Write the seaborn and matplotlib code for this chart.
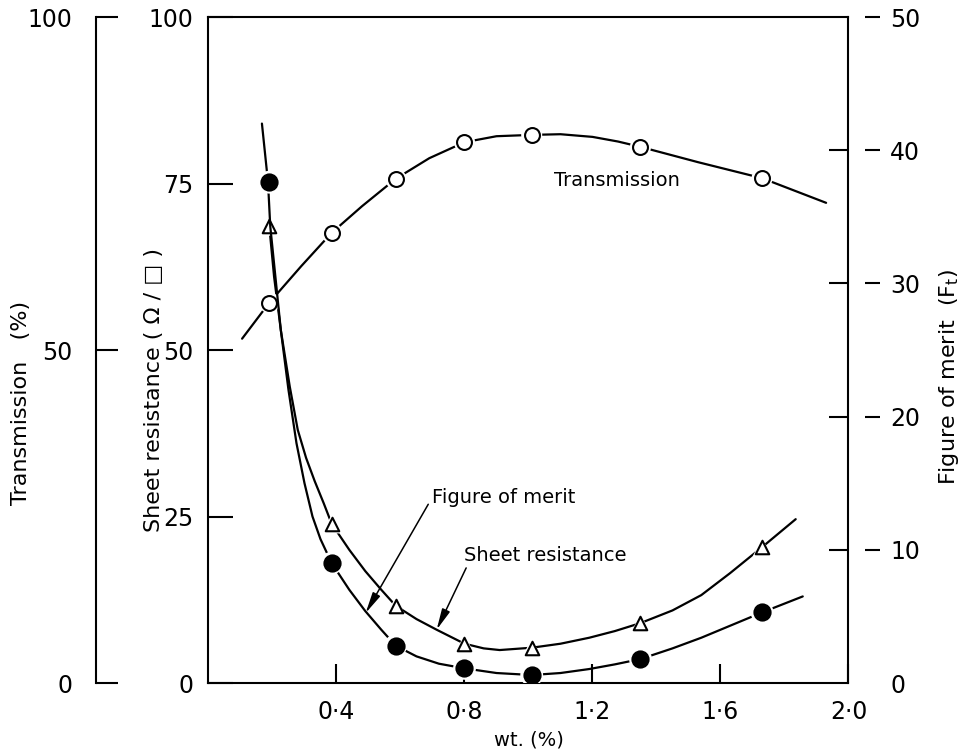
# Transmission, sheet resistance and figure of merit vs wt. %
#
# python plot.py

import matplotlib
matplotlib.use("Agg")
import matplotlib.pyplot as plt
import seaborn as sns


# measured points (markers)
wt_points = [0.19, 0.385, 0.585, 0.80, 1.01, 1.35, 1.73]
transmission = [57.1, 67.6, 75.7, 81.2, 82.3, 80.5, 75.8]
sheet_resistance = [68.6, 23.9, 11.6, 5.9, 5.3, 9.0, 20.4]
figure_of_merit = [37.6, 9.0, 2.8, 1.1, 0.6, 1.8, 5.3]

# hand drawn curves
trans_curve_wt = [0.105, 0.19, 0.29, 0.385, 0.48, 0.585, 0.69, 0.80, 0.90, 1.01, 1.10,
                  1.20, 1.28, 1.35, 1.53, 1.73, 1.93]
trans_curve = [51.7, 57.1, 62.6, 67.6, 71.6, 75.7, 78.8, 81.2, 82.1, 82.3, 82.4,
               82.0, 81.3, 80.5, 78.2, 75.8, 72.1]

sheet_curve_wt = [0.19, 0.205, 0.226, 0.254, 0.279, 0.305, 0.332, 0.36, 0.385, 0.44, 0.49,
                  0.54, 0.585, 0.65, 0.713, 0.80, 0.86, 0.91, 1.01, 1.10, 1.19, 1.27,
                  1.35, 1.45, 1.54, 1.63, 1.73, 1.835]
sheet_curve = [68.6, 61.0, 53.0, 44.5, 38.0, 33.8, 30.3, 27.0, 23.9, 20.0, 16.8,
               14.0, 11.6, 9.6, 8.0, 5.9, 5.2, 4.95, 5.3, 5.9, 6.8, 7.8,
               9.0, 10.9, 13.2, 16.5, 20.4, 24.6]

fom_curve_wt = [0.167, 0.186, 0.193, 0.226, 0.25, 0.275, 0.30, 0.325, 0.35, 0.385, 0.44,
                0.49, 0.54, 0.585, 0.65, 0.72, 0.80, 0.90, 1.01, 1.10, 1.19, 1.27,
                1.35, 1.45, 1.54, 1.63, 1.73, 1.857]
fom_curve = [42.0, 37.6, 34.3, 26.5, 22.0, 18.0, 15.0, 12.5, 10.8, 9.0, 7.0,
             5.4, 4.0, 2.8, 2.0, 1.45, 1.1, 0.75, 0.6, 0.75, 1.05, 1.4,
             1.8, 2.6, 3.4, 4.3, 5.3, 6.5]

x_ticks = [0.4, 0.8, 1.2, 1.6, 2.0]
x_tick_labels = ["0\u00b74", "0\u00b78", "1\u00b72", "1\u00b76", "2\u00b70"]
sheet_ticks = [0, 25, 50, 75, 100]
trans_ticks = [0, 50, 100]
fom_ticks = [0, 10, 20, 30, 40, 50]

sns.set_style("white")
plt.rcParams["font.family"] = ["DejaVu Sans"]
plt.rcParams["text.color"] = "black"
plt.rcParams["axes.labelcolor"] = "black"
plt.rcParams["xtick.color"] = "black"
plt.rcParams["ytick.color"] = "black"

LW = 1.6
TICK_FS = 17
LABEL_FS = 16
NOTE_FS = 14

fig = plt.figure(figsize=(9.63, 7.49), dpi=100)
ax = fig.add_axes([0.2165, 0.0881, 0.6646, 0.8892])
ax_t = ax.twinx()
ax_f = ax.twinx()
ax_fin = ax.twinx()


def markers(axis, x, y, marker, size, face):
    # white halo first, so the line breaks around each marker
    sns.scatterplot(x=x, y=y, ax=axis, marker=marker, s=size * 2.0, color="white",
                    edgecolor="none", linewidth=0, zorder=3, legend=False)
    sns.scatterplot(x=x, y=y, ax=axis, marker=marker, s=size, color=face,
                    edgecolor="black", linewidth=1.5, zorder=4, legend=False)


# sheet resistance (left scale 0-100)
sns.lineplot(x=sheet_curve_wt, y=sheet_curve, ax=ax, sort=False, estimator=None,
             color="black", linewidth=LW)
markers(ax, wt_points, sheet_resistance, "^", 95, "white")

# transmission (outer left scale 0-100)
sns.lineplot(x=trans_curve_wt, y=trans_curve, ax=ax_t, sort=False, estimator=None,
             color="black", linewidth=LW)
markers(ax_t, wt_points, transmission, "o", 115, "white")

# figure of merit (right scale 0-50)
sns.lineplot(x=fom_curve_wt, y=fom_curve, ax=ax_f, sort=False, estimator=None,
             color="black", linewidth=LW)
markers(ax_f, wt_points, figure_of_merit, "o", 135, "black")

# main box
ax.set_xlim(0, 2.0)
ax.set_ylim(0, 100)
for s in ax.spines.values():
    s.set_linewidth(1.5)
    s.set_color("black")
ax.set_xticks(x_ticks)
ax.set_xticklabels(x_tick_labels)
ax.set_yticks(sheet_ticks)
ax.tick_params(axis="x", direction="in", length=14, width=1.5, pad=12,
               labelsize=TICK_FS, bottom=True)
ax.tick_params(axis="y", direction="in", length=18, width=1.5, pad=11,
               labelsize=TICK_FS, left=True, right=False)
ax.set_xlabel("wt. (%)", fontsize=NOTE_FS)
ax.xaxis.set_label_coords(0.5, -0.071)
ax.set_ylabel("Sheet resistance ( \u03a9 / \u25a1 )", fontsize=LABEL_FS)
ax.yaxis.set_label_coords(-0.07, 0.44)

# outer transmission axis on the far left
ax_t.set_ylim(0, 100)
ax_t.set_yticks(trans_ticks)
ax_t.yaxis.set_ticks_position("left")
ax_t.yaxis.set_label_position("left")
for k in ["right", "top", "bottom"]:
    ax_t.spines[k].set_visible(False)
ax_t.spines["left"].set_visible(True)
ax_t.spines["left"].set_position(("outward", 81))
ax_t.spines["left"].set_linewidth(1.5)
ax_t.spines["left"].set_color("black")
ax_t.tick_params(axis="y", direction="in", length=16, width=1.5, pad=17,
                 labelsize=TICK_FS)
ax_t.set_ylabel("Transmission   (%)", fontsize=LABEL_FS)
ax_t.yaxis.set_label_coords(-0.278, 0.42)

# figure of merit labels, with the detached dashes
ax_f.set_ylim(0, 50)
ax_f.set_yticks(fom_ticks)
for s in ax_f.spines.values():
    s.set_visible(False)
ax_f.spines["right"].set_position(("outward", 12))
ax_f.tick_params(axis="y", direction="out", length=11, width=1.5, pad=7,
                 labelsize=TICK_FS)
ax_f.yaxis.get_major_ticks()[0].tick2line.set_visible(False)
ax_f.set_ylabel("Figure of merit  (F$_\\mathregular{t}$)", fontsize=LABEL_FS)
ax_f.yaxis.set_label_coords(1.139, 0.46)

# inward ticks on the right spine
ax_fin.set_ylim(0, 50)
ax_fin.set_yticks([10, 20, 30, 40])
for s in ax_fin.spines.values():
    s.set_visible(False)
ax_fin.tick_params(axis="y", direction="in", length=14, width=1.5, labelright=False)

# curve labels
ax.text(1.08, 75.5, "Transmission", fontsize=NOTE_FS, va="center", ha="left")
arrow = dict(arrowstyle="-|>,head_length=0.9,head_width=0.18", color="black", lw=1.1,
             shrinkA=0, shrinkB=0)
ax.annotate("Figure of merit", xy=(0.491, 10.5), xytext=(0.697, 27.8), fontsize=NOTE_FS,
            va="center", ha="left", arrowprops=dict(arrow, relpos=(-0.02, 0.2)))
ax.annotate("Sheet resistance", xy=(0.713, 8.0), xytext=(0.80, 19.2), fontsize=NOTE_FS,
            va="center", ha="left", arrowprops=dict(arrow, relpos=(0.02, 0.0)))

plt.savefig("out.png", dpi=100)
